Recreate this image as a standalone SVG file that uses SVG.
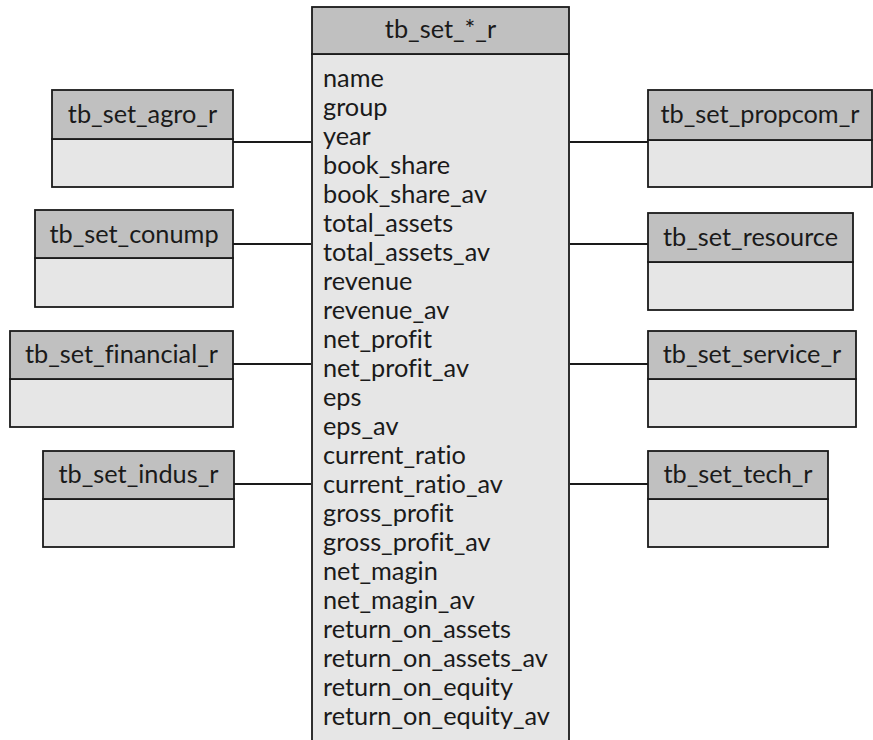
<svg xmlns="http://www.w3.org/2000/svg" width="873" height="740" viewBox="0 0 873 740">
<style>
.hd{fill:#c0c0c0;stroke:#1a1a1a;stroke-width:1.8}
.bd{fill:#e6e6e6;stroke:#1a1a1a;stroke-width:1.8}
.t{font-family:Lato,"Liberation Sans",sans-serif;font-size:25.3px;fill:#1a1a1a;font-variant-ligatures:none;font-feature-settings:"liga" 0}
.c{text-anchor:middle}
.ln{stroke:#1a1a1a;stroke-width:1.8;fill:none}
</style>
<rect width="873" height="740" fill="#ffffff"/>
<g id="main">
<rect class="bd" x="312" y="54" width="257" height="700"/>
<rect class="hd" x="312" y="7" width="257" height="47"/>
<text class="t c" x="440.5" y="38">tb_set_*_r</text>
<text class="t" x="323">
<tspan x="323" y="87">name</tspan>
<tspan x="323" y="116">group</tspan>
<tspan x="323" y="145">year</tspan>
<tspan x="323" y="174">book_share</tspan>
<tspan x="323" y="203">book_share_av</tspan>
<tspan x="323" y="232">total_assets</tspan>
<tspan x="323" y="261">total_assets_av</tspan>
<tspan x="323" y="290">revenue</tspan>
<tspan x="323" y="319">revenue_av</tspan>
<tspan x="323" y="348">net_profit</tspan>
<tspan x="323" y="377">net_profit_av</tspan>
<tspan x="323" y="406">eps</tspan>
<tspan x="323" y="435">eps_av</tspan>
<tspan x="323" y="464">current_ratio</tspan>
<tspan x="323" y="493">current_ratio_av</tspan>
<tspan x="323" y="522">gross_profit</tspan>
<tspan x="323" y="551">gross_profit_av</tspan>
<tspan x="323" y="580">net_magin</tspan>
<tspan x="323" y="609">net_magin_av</tspan>
<tspan x="323" y="638">return_on_assets</tspan>
<tspan x="323" y="667">return_on_assets_av</tspan>
<tspan x="323" y="696">return_on_equity</tspan>
<tspan x="323" y="725">return_on_equity_av</tspan>
</text>
</g>
<g id="connectors">
<line class="ln" x1="233" y1="142" x2="311" y2="142"/>
<line class="ln" x1="233" y1="244" x2="311" y2="244"/>
<line class="ln" x1="233" y1="364" x2="311" y2="364"/>
<line class="ln" x1="233" y1="484" x2="311" y2="484"/>
<line class="ln" x1="570" y1="142" x2="648" y2="142"/>
<line class="ln" x1="570" y1="244" x2="648" y2="244"/>
<line class="ln" x1="570" y1="364" x2="648" y2="364"/>
<line class="ln" x1="570" y1="484" x2="648" y2="484"/>
</g>
<g id="agro">
<rect class="bd" x="52" y="139" width="181" height="48"/>
<rect class="hd" x="52" y="90" width="181" height="49"/>
<text class="t c" x="142.5" y="123">tb_set_agro_r</text>
</g>
<g id="conump">
<rect class="bd" x="35" y="258" width="198" height="49"/>
<rect class="hd" x="35" y="210" width="198" height="48"/>
<text class="t c" x="134" y="243">tb_set_conump</text>
</g>
<g id="financial">
<rect class="bd" x="10" y="379" width="223" height="48"/>
<rect class="hd" x="10" y="331" width="223" height="48"/>
<text class="t c" x="121.5" y="363">tb_set_financial_r</text>
</g>
<g id="indus">
<rect class="bd" x="43" y="499" width="191" height="48"/>
<rect class="hd" x="43" y="451" width="191" height="48"/>
<text class="t c" x="138.5" y="483">tb_set_indus_r</text>
</g>
<g id="propcom">
<rect class="bd" x="648" y="140" width="224" height="47"/>
<rect class="hd" x="648" y="90" width="224" height="50"/>
<text class="t c" x="760" y="123">tb_set_propcom_r</text>
</g>
<g id="resource">
<rect class="bd" x="648" y="262" width="205" height="48"/>
<rect class="hd" x="648" y="213" width="205" height="49"/>
<text class="t c" x="750.5" y="246">tb_set_resource</text>
</g>
<g id="service">
<rect class="bd" x="648" y="379" width="208" height="48"/>
<rect class="hd" x="648" y="331" width="208" height="48"/>
<text class="t c" x="752" y="363">tb_set_service_r</text>
</g>
<g id="tech">
<rect class="bd" x="648" y="499" width="180" height="48"/>
<rect class="hd" x="648" y="451" width="180" height="48"/>
<text class="t c" x="738" y="483">tb_set_tech_r</text>
</g>
</svg>
